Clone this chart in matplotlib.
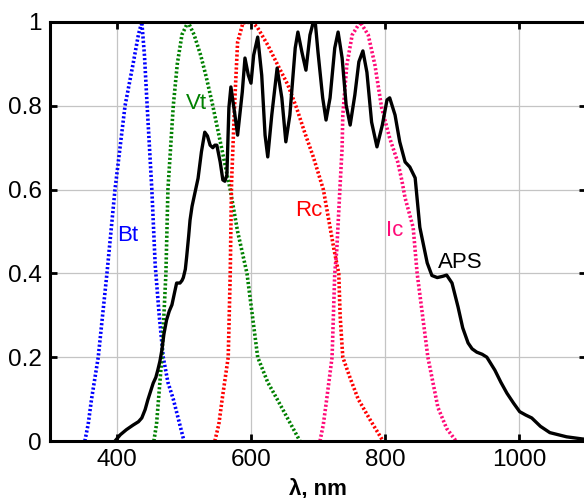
import numpy as np
import matplotlib.pyplot as plt

plt.rcParams['font.family'] = ['Liberation Sans', 'DejaVu Sans']

# curvas de respuesta (longitud de onda en nm, respuesta normalizada)
bt_x = [352, 357, 362, 372, 385, 397, 412, 424, 432, 437, 441, 445, 452, 457, 463, 469, 476, 484, 492, 500]
bt_y = [0.0, 0.04, 0.1, 0.2, 0.4, 0.6, 0.8, 0.9, 0.97, 1.0, 0.92, 0.8, 0.6, 0.42, 0.3, 0.2, 0.14, 0.1, 0.05, 0.0]

vt_x = [455, 459, 462, 467, 473, 476, 480, 484, 490, 497, 506, 515, 525, 533, 543, 556, 569,
        580, 587, 594, 602, 610, 625, 639, 656, 673]
vt_y = [0.0, 0.04, 0.1, 0.2, 0.4, 0.6, 0.7, 0.8, 0.9, 0.97, 1.0, 0.97, 0.92, 0.87, 0.8, 0.7, 0.6,
        0.5, 0.45, 0.4, 0.3, 0.2, 0.14, 0.1, 0.05, 0.0]

rc_x = [546, 552, 557, 566, 569, 571, 573, 576, 580, 588, 602, 610, 625, 640, 655, 668, 680,
        693, 708, 724, 731, 733, 737, 748, 760, 778, 797]
rc_y = [0.0, 0.04, 0.1, 0.2, 0.4, 0.618, 0.7, 0.819, 0.952, 0.998, 1.0, 0.986, 0.945, 0.897,
        0.85, 0.795, 0.737, 0.678, 0.6, 0.456, 0.4, 0.3, 0.2, 0.15, 0.1, 0.05, 0.0]

ic_x = [703, 708, 713, 721, 725, 728, 733, 736, 737, 743, 751, 763, 775, 785, 795, 807, 819,
        825, 830, 842, 848, 864, 879, 892, 906]
ic_y = [0.0, 0.04, 0.1, 0.2, 0.4, 0.456, 0.611, 0.70, 0.778, 0.897, 0.969, 1.0, 0.969, 0.897,
        0.795, 0.723, 0.666, 0.623, 0.58, 0.51, 0.4, 0.2, 0.08, 0.03, 0.0]

aps_x = [397, 405, 414, 424, 432, 437, 442, 446, 450, 454, 458, 461, 464, 467, 470, 474, 478,
         482, 486, 489, 494, 497, 499, 502, 504, 507, 509, 512, 516, 521, 526, 531, 535, 539,
         543, 546, 549, 554, 558, 561, 564, 567, 570, 576, 580, 587, 591, 596, 600, 604, 610,
         616, 621, 625, 631, 639, 646, 652, 658, 666, 670, 676, 682, 688, 693, 696, 700, 707,
         712, 718, 725, 730, 736, 742, 748, 755, 761, 767, 773, 780, 788, 796, 803, 807, 815,
         822, 830, 837, 845, 852, 863, 870, 878, 886, 892, 900, 909, 916, 924, 930, 937, 945,
         952, 964, 973, 982, 992, 1001, 1010, 1019, 1032, 1046, 1071, 1094, 1100]
aps_y = [0.0, 0.015, 0.027, 0.038, 0.046, 0.055, 0.075, 0.098, 0.118, 0.138, 0.152, 0.17, 0.19,
         0.217, 0.255, 0.289, 0.31, 0.325, 0.355, 0.377, 0.377, 0.383, 0.39, 0.41, 0.44, 0.49,
         0.527, 0.56, 0.59, 0.627, 0.69, 0.737, 0.728, 0.706, 0.70, 0.706, 0.706, 0.666, 0.623,
         0.62, 0.635, 0.795, 0.845, 0.778, 0.73, 0.833, 0.914, 0.873, 0.854, 0.921, 0.964, 0.873,
         0.73, 0.678, 0.778, 0.89, 0.819, 0.714, 0.778, 0.938, 0.976, 0.928, 0.885, 0.969, 1.0,
         0.998, 0.928, 0.819, 0.766, 0.819, 0.938, 0.976, 0.914, 0.802, 0.754, 0.826, 0.905,
         0.931, 0.88, 0.761, 0.702, 0.754, 0.814, 0.819, 0.778, 0.714, 0.666, 0.654, 0.628, 0.51,
         0.425, 0.395, 0.39, 0.393, 0.396, 0.377, 0.32, 0.27, 0.234, 0.22, 0.212, 0.207, 0.2,
         0.169, 0.14, 0.114, 0.09, 0.07, 0.062, 0.055, 0.035, 0.02, 0.01, 0.005, 0.004]

etiquetas = ['Bt', 'Vt', 'Rc', 'Ic', 'APS']
colores = ['#0000ff', '#008000', '#ff0000', '#ff0a78', 'black']
pos_etiquetas = [(416, 0.49), (518, 0.805), (686, 0.549), (815, 0.503), (912, 0.427)]

fig = plt.figure(figsize=(5.84, 4.98), dpi=100)
ax = fig.add_axes([50 / 584, 57 / 498, 536 / 584, 419 / 498])

puntos = (0, (0.6, 0.6))
for xs, ys, c in zip([bt_x, vt_x, rc_x, ic_x], [bt_y, vt_y, rc_y, ic_y], colores[:4]):
    ax.plot(xs, ys, color=c, lw=2.6, linestyle=puntos)
ax.plot(aps_x, aps_y, color='black', lw=2.4, solid_joinstyle='round')

for txt, c, (px, py) in zip(etiquetas, colores, pos_etiquetas):
    ax.text(px, py, txt, color=c, fontsize=16, ha='center', va='center')

ax.set_xlim(300, 1100)
ax.set_ylim(0, 1)
ax.set_xticks([400, 600, 800, 1000])
ax.set_yticks([0, 0.2, 0.4, 0.6, 0.8, 1])
ax.set_yticklabels(['0', '0.2', '0.4', '0.6', '0.8', '1'])
ax.tick_params(direction='in', length=5, width=2, labelsize=17.5, top=True, right=True, pad=6)
ax.grid(True, color='#c4c4c4', lw=0.9)
ax.set_axisbelow(True)
for s in ax.spines.values():
    s.set_linewidth(2.2)
ax.set_xlabel('λ, nm', fontsize=16, fontweight='bold', labelpad=5)

fig.savefig('out.png', dpi=100)
